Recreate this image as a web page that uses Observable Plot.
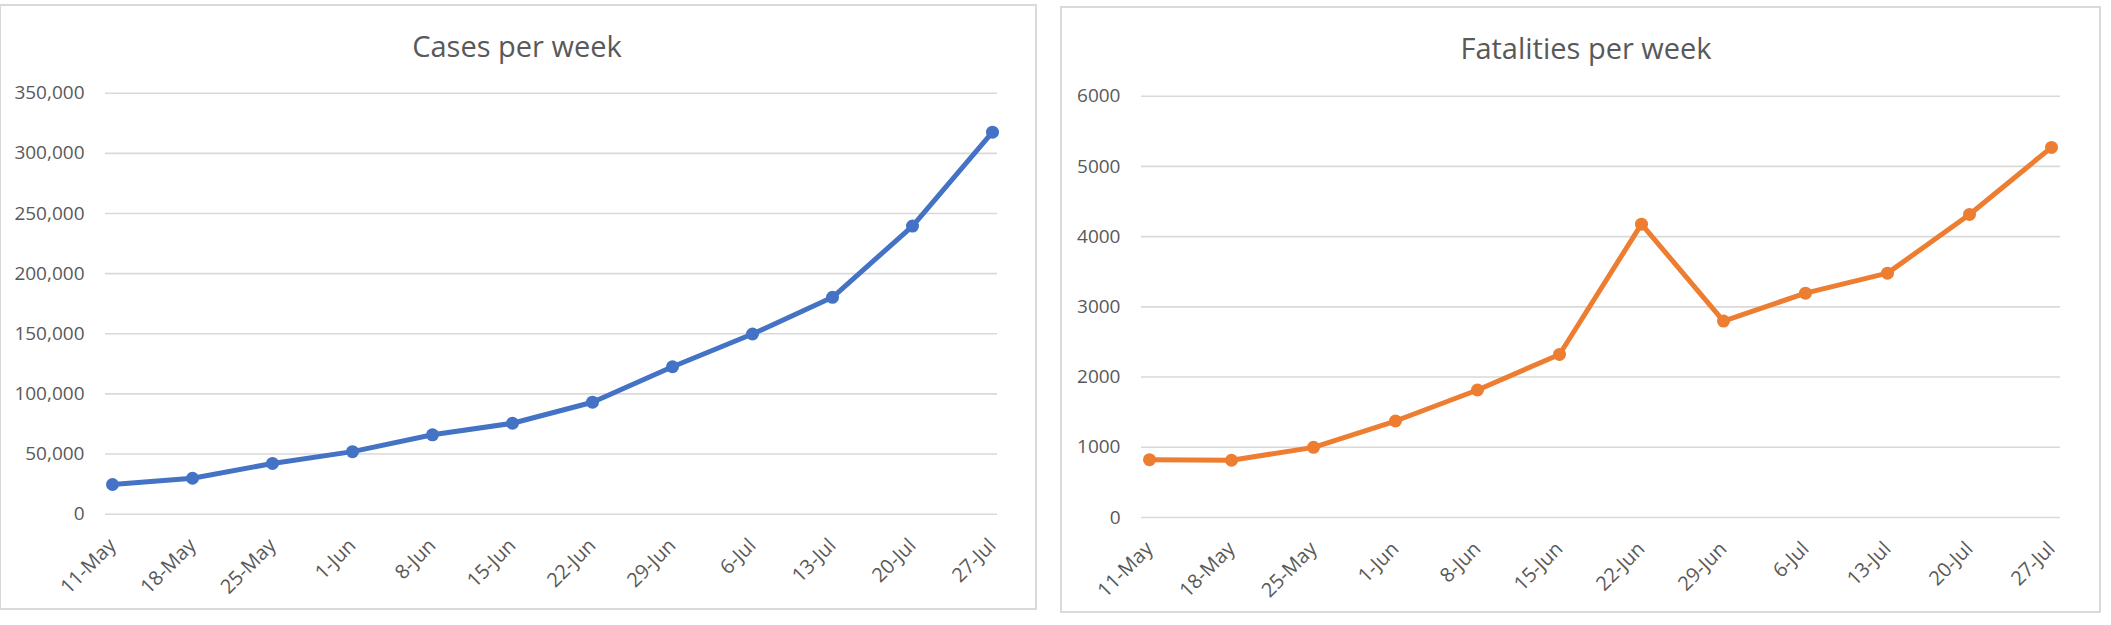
<!DOCTYPE html>
<html>
<head>
<meta charset="utf-8">
<script src="https://cdn.jsdelivr.net/npm/d3@7"></script>
<script src="https://cdn.jsdelivr.net/npm/@observablehq/plot@0.6"></script>
<style>
  html, body { margin: 0; padding: 0; background: #fff; }
  body { width: 2111px; height: 625px; position: relative; overflow: hidden; font-family: "Open Sans", sans-serif; }
  .frame { position: absolute; border: 2px solid #d9d9d9; box-sizing: border-box; }
  .title { position: absolute; font-size: 29px; color: #595959; white-space: nowrap; transform: translateX(-50%); line-height: 1; }
  .chart { position: absolute; }
</style>
</head>
<body>
<div class="frame" style="left:-1px; top:4px; width:1038px; height:606px;"></div>
<div class="frame" style="left:1060px; top:6px; width:1041px; height:607px;"></div>
<div class="title" style="left:517px; top:31px;">Cases per week</div>
<div class="title" style="left:1586px; top:33px;">Fatalities per week</div>
<div class="chart" id="left" style="left:0px; top:70px;"></div>
<div class="chart" id="right" style="left:1061px; top:70px;"></div>
<script>
const weeks = ["11-May","18-May","25-May","1-Jun","8-Jun","15-Jun","22-Jun","29-Jun","6-Jul","13-Jul","20-Jul","27-Jul"];
const cases = [24700, 29900, 42200, 52000, 66000, 75600, 93100, 122600, 149800, 180300, 239500, 317600];
const fatalities = [824, 815, 999, 1374, 1816, 2322, 4178, 2798, 3195, 3480, 4316, 5271];
const caseTicks = [0, 50000, 100000, 150000, 200000, 250000, 300000, 350000];
const fatalityTicks = [0, 1000, 2000, 3000, 4000, 5000, 6000];

function chart({values, ticks, fmt, color, width, height, mt, mb, ml, mr, il, ir}) {
  const data = weeks.map((w, i) => ({week: w, value: values[i]}));
  return Plot.plot({
    width, height,
    marginTop: mt, marginBottom: mb, marginLeft: ml, marginRight: mr,
    style: {fontFamily: "'Open Sans', sans-serif", fontSize: "19px", color: "#595959", background: "transparent", overflow: "visible"},
    x: {type: "point", domain: weeks, padding: 0, insetLeft: il, insetRight: ir},
    y: {domain: [ticks[0], ticks[ticks.length - 1]]},
    marks: [
      Plot.ruleY(ticks, {stroke: "#d9d9d9", strokeWidth: 1.6}),
      Plot.axisY({ticks, tickSize: 0, tickPadding: 21, tickFormat: fmt, label: null, fill: "#595959"}),
      Plot.axisX({tickSize: 0, tickPadding: 28, tickRotate: -45, label: null, fill: "#595959", fontSize: 20}),
      Plot.line(data, {x: "week", y: "value", stroke: color, strokeWidth: 5, strokeLinejoin: "round", strokeLinecap: "round"}),
      Plot.dot(data, {x: "week", y: "value", r: 6.5, fill: color, stroke: "none"})
    ]
  });
}

document.getElementById("left").appendChild(chart({
  values: cases, ticks: caseTicks, fmt: d3.format(","), color: "#4472C4",
  width: 1036, height: 534, mt: 22.7, mb: 90.3, ml: 105, mr: 39, il: 6, ir: 5
}));
document.getElementById("right").appendChild(chart({
  values: fatalities, ticks: fatalityTicks, fmt: d3.format("d"), color: "#ED7D31",
  width: 1038, height: 537, mt: 25.7, mb: 90, ml: 80, mr: 39, il: 5, ir: 6
}));
</script>
</body>
</html>
